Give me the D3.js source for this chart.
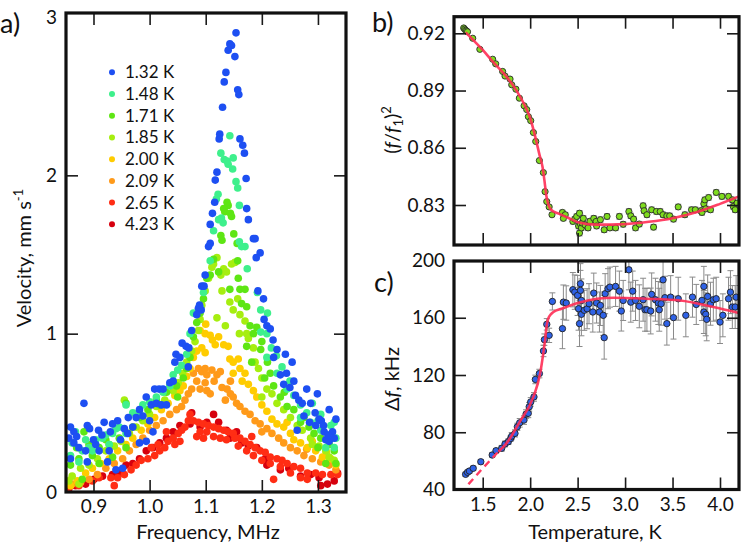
<!DOCTYPE html>
<html><head><meta charset="utf-8">
<script src="https://cdn.jsdelivr.net/npm/d3@7"></script>
<style>body{margin:0;background:#fff}svg{display:block}</style>
</head><body><svg id="c" width="747" height="545"></svg>
<script>
// ---------- DATA ----------
const seriesLabels = ["1.32 K","1.48 K","1.71 K","1.85 K","2.00 K","2.09 K","2.65 K","4.23 K"];
const seriesColors = ["#1d4ff2","#3ef08c","#5ee614","#a6ee10","#ffcc00","#ff9a1a","#ff2d14","#d6000e"];
const freqTicks = [0.9,1.0,1.1,1.2,1.3];
const velTicks = [0,1,2,3];
const tempTicks = [1.5,2.0,2.5,3.0,3.5,4.0];
const ratioTicks = [0.83,0.86,0.89,0.92];
const dfTicks = [40,80,120,160,200];

const v132 = [[1.154,2.90],[1.143,2.83],[1.146,2.82],[1.140,2.79],[1.152,2.75],[1.136,2.65],[1.133,2.59],[1.157,2.54],[1.159,2.51],[1.130,2.43],[1.125,2.26],[1.124,2.23],[1.161,2.23],[1.166,2.19],[1.169,2.14],[1.120,2.02],[1.117,1.97],[1.172,1.98],[1.116,1.83],[1.173,1.79],[1.176,1.72],[1.112,1.76],[1.108,1.69],[1.185,1.60],[1.188,1.60],[1.105,1.55],[1.108,1.57],[1.197,1.51],[1.190,1.48],[1.099,1.37],[1.093,1.30],[1.097,1.30],[1.193,1.27],[1.203,1.22],[1.089,1.18],[1.092,1.15],[1.087,1.16],[1.204,1.09],[1.209,1.05],[1.215,1.03],[1.084,1.12],[1.075,1.02],[1.220,0.96],[1.058,0.94],[1.065,0.92],[1.070,0.91],[1.227,0.90],[1.242,0.87],[1.047,0.87],[1.054,0.85],[1.069,0.79],[1.254,0.82],[1.221,0.85],[1.233,0.74],[1.244,0.75],[1.045,0.82],[1.036,0.69],[1.042,0.70],[1.009,0.65],[1.017,0.65],[1.024,0.65],[1.257,0.70],[1.239,0.68],[1.280,0.65],[1.299,0.62],[0.994,0.60],[1.003,0.55],[1.012,0.56],[1.021,0.55],[1.030,0.55],[1.260,0.61],[1.272,0.56],[1.287,0.56],[0.883,0.56],[1.295,0.50],[1.306,0.45],[1.320,0.52],[1.332,0.46],[1.326,0.38],[1.311,0.38],[1.296,0.42],[1.263,0.39],[0.982,0.52],[0.976,0.47],[0.970,0.41],[0.961,0.37],[0.943,0.45],[0.934,0.43],[0.919,0.44],[0.909,0.39],[0.889,0.42],[0.893,0.40],[0.865,0.38],[0.865,0.31],[0.874,0.28],[0.856,0.34],[0.859,0.21],[0.886,0.26],[0.904,0.30],[0.910,0.26],[0.928,0.26],[0.889,0.19],[0.925,0.19],[0.940,0.14],[0.952,0.15],[0.994,0.32],[0.982,0.31],[1.006,0.38],[1.314,0.33],[1.320,0.32],[1.329,0.34],[1.302,0.46],[0.859,0.41],[0.948,0.33],[0.955,0.40],[1.275,0.48],[1.285,0.44],[0.870,0.35],[0.900,0.33],[0.915,0.36],[0.930,0.38],[0.962,0.47],[0.988,0.48],[1.000,0.45],[1.250,0.66],[1.266,0.58],[1.310,0.42],[1.318,0.36]];
const v148 = [[1.143,2.25],[1.127,2.14],[1.133,2.10],[1.138,2.09],[1.149,2.11],[1.140,2.07],[1.148,2.04],[1.154,1.96],[1.157,1.92],[1.122,1.88],[1.119,1.85],[1.160,1.81],[1.128,1.73],[1.131,1.70],[1.170,1.55],[1.164,1.55],[1.114,1.65],[1.123,1.72],[1.108,1.46],[1.174,1.41],[1.192,1.26],[1.160,1.58],[1.096,1.26],[1.198,1.15],[1.090,1.17],[1.078,1.13],[1.210,1.13],[1.198,1.01],[1.209,1.00],[1.072,1.00],[1.066,0.87],[1.057,0.80],[1.217,0.91],[1.226,0.86],[1.236,0.79],[1.209,0.85],[1.245,0.65],[1.227,0.75],[1.042,0.74],[1.036,0.67],[1.024,0.63],[1.000,0.57],[0.988,0.55],[1.257,0.61],[1.269,0.55],[1.290,0.56],[1.305,0.49],[1.323,0.42],[1.332,0.34],[1.329,0.44],[0.970,0.50],[0.958,0.55],[0.946,0.41],[0.934,0.37],[0.916,0.34],[0.904,0.33],[0.892,0.28],[0.880,0.26],[0.862,0.31],[0.859,0.23],[0.874,0.19],[0.898,0.26],[0.928,0.30],[0.958,0.37],[1.305,0.39],[1.287,0.44],[1.314,0.28],[1.329,0.28],[1.269,0.47],[0.868,0.38],[1.012,0.60],[1.050,0.77],[1.250,0.70],[1.280,0.50],[0.886,0.33],[0.922,0.36],[0.940,0.40],[0.982,0.50],[1.300,0.45],[1.320,0.36]];
const v171 = [[1.140,1.81],[1.138,1.83],[1.132,1.79],[1.134,1.77],[1.144,1.76],[1.146,1.74],[1.127,1.62],[1.129,1.59],[1.150,1.63],[1.156,1.57],[1.157,1.46],[1.114,1.47],[1.108,1.37],[1.123,1.39],[1.143,1.28],[1.158,1.35],[1.161,1.28],[1.102,1.35],[1.164,1.19],[1.170,1.28],[1.173,1.17],[1.096,1.22],[1.090,1.13],[1.084,1.07],[1.179,1.05],[1.185,1.00],[1.191,1.04],[1.078,0.98],[1.173,0.92],[1.198,0.90],[1.182,0.82],[1.072,0.85],[1.066,0.78],[1.060,0.72],[1.210,0.82],[1.215,0.75],[1.221,0.67],[1.048,0.67],[1.030,0.63],[1.012,0.58],[0.997,0.52],[0.958,0.56],[0.982,0.47],[0.970,0.41],[1.233,0.60],[1.245,0.54],[1.257,0.52],[1.269,0.44],[1.284,0.41],[1.293,0.37],[1.305,0.34],[1.320,0.30],[1.329,0.26],[1.332,0.18],[0.946,0.34],[0.928,0.30],[0.910,0.28],[0.898,0.23],[0.883,0.38],[0.874,0.21],[0.859,0.17],[0.880,0.08],[0.910,0.18],[0.934,0.22],[1.300,0.28],[1.314,0.18],[1.200,0.95],[1.205,0.72],[1.050,0.60],[0.958,0.28],[0.870,0.28],[0.892,0.30],[0.922,0.33],[1.018,0.55],[1.240,0.63],[1.275,0.47]];
const v185 = [[1.114,1.44],[1.120,1.48],[1.111,1.42],[1.127,1.37],[1.132,1.41],[1.137,1.39],[1.146,1.44],[1.152,1.45],[1.105,1.35],[1.099,1.27],[1.129,1.27],[1.143,1.20],[1.149,1.15],[1.157,1.22],[1.161,1.12],[1.170,1.08],[1.173,1.00],[1.176,0.97],[1.093,1.18],[1.090,1.09],[1.087,1.02],[1.081,0.95],[1.075,0.89],[1.066,0.82],[1.059,0.75],[1.051,0.69],[1.185,0.91],[1.188,0.82],[1.194,0.78],[1.200,0.72],[1.209,0.65],[1.218,0.62],[1.042,0.64],[1.027,0.58],[1.012,0.54],[1.000,0.49],[1.227,0.56],[1.239,0.52],[1.251,0.47],[1.263,0.42],[1.272,0.39],[1.287,0.34],[1.302,0.29],[1.314,0.26],[1.329,0.20],[0.988,0.45],[0.976,0.41],[0.964,0.37],[0.949,0.32],[0.937,0.29],[0.922,0.26],[0.907,0.21],[0.892,0.17],[0.877,0.15],[0.862,0.10],[0.856,0.07],[0.874,0.05],[0.955,0.58],[1.120,1.10],[1.135,1.05],[1.160,1.00],[1.200,0.60],[1.290,0.30],[1.320,0.22]];
const v200 = [[1.090,1.02],[1.099,1.00],[1.108,0.99],[1.117,0.93],[1.123,0.98],[1.132,0.93],[1.140,0.92],[1.093,0.91],[1.099,0.88],[1.084,0.89],[1.078,0.85],[1.143,0.84],[1.149,0.82],[1.158,0.84],[1.161,0.78],[1.149,0.75],[1.170,0.75],[1.072,0.78],[1.066,0.73],[1.176,0.68],[1.185,0.64],[1.191,0.60],[1.200,0.55],[1.060,0.67],[1.054,0.64],[1.045,0.61],[1.033,0.56],[1.021,0.52],[1.209,0.51],[1.218,0.46],[1.227,0.43],[1.239,0.41],[1.251,0.37],[1.257,0.33],[1.269,0.31],[1.281,0.28],[1.296,0.26],[1.308,0.22],[1.323,0.21],[1.332,0.17],[1.009,0.47],[0.997,0.43],[0.985,0.39],[0.970,0.34],[0.958,0.30],[0.943,0.26],[0.928,0.21],[0.913,0.18],[0.898,0.15],[0.886,0.12],[0.871,0.07],[0.859,0.04],[1.100,1.06],[1.112,0.96],[1.165,0.70],[1.245,0.44],[1.290,0.32],[1.315,0.25]];
const v209 = [[1.078,0.75],[1.087,0.78],[1.093,0.76],[1.099,0.78],[1.102,0.74],[1.111,0.77],[1.120,0.74],[1.126,0.76],[1.084,0.70],[1.090,0.65],[1.102,0.64],[1.108,0.62],[1.129,0.66],[1.138,0.65],[1.144,0.62],[1.149,0.60],[1.075,0.65],[1.069,0.62],[1.063,0.58],[1.057,0.54],[1.048,0.52],[1.155,0.56],[1.161,0.54],[1.170,0.51],[1.179,0.49],[1.188,0.45],[1.197,0.43],[1.036,0.49],[1.024,0.45],[1.012,0.42],[1.000,0.39],[1.209,0.40],[1.218,0.37],[1.230,0.34],[1.239,0.31],[1.251,0.28],[1.263,0.26],[1.275,0.23],[1.290,0.21],[1.305,0.19],[1.320,0.17],[1.332,0.14],[0.988,0.34],[0.976,0.30],[0.964,0.26],[0.952,0.21],[0.937,0.18],[0.922,0.15],[0.907,0.11],[0.892,0.08],[0.877,0.06],[0.862,0.05],[1.144,0.70],[1.099,0.69],[1.115,0.70],[1.135,0.58],[1.200,0.38],[1.280,0.27]];
const v265 = [[1.072,0.49],[1.069,0.45],[1.078,0.45],[1.087,0.44],[1.096,0.43],[1.105,0.42],[1.114,0.41],[1.123,0.40],[1.132,0.39],[1.140,0.38],[1.149,0.37],[1.161,0.34],[1.090,0.38],[1.102,0.38],[1.114,0.35],[1.126,0.34],[1.137,0.33],[1.084,0.35],[1.096,0.34],[1.063,0.41],[1.057,0.39],[1.051,0.37],[1.042,0.34],[1.033,0.32],[1.054,0.32],[1.045,0.30],[1.027,0.28],[1.018,0.26],[1.009,0.23],[0.997,0.21],[0.985,0.20],[0.976,0.17],[0.967,0.14],[0.955,0.11],[0.943,0.09],[0.931,0.09],[0.910,0.09],[0.898,0.07],[0.874,0.04],[0.856,0.03],[1.170,0.32],[1.179,0.30],[1.188,0.28],[1.197,0.26],[1.206,0.25],[1.215,0.22],[1.227,0.21],[1.236,0.20],[1.245,0.18],[1.257,0.16],[1.269,0.15],[1.281,0.12],[1.296,0.12],[1.308,0.11],[1.323,0.11],[1.335,0.11],[1.158,0.29],[1.173,0.26],[1.185,0.23],[1.200,0.20],[1.215,0.18],[1.233,0.16],[1.251,0.12],[1.269,0.09],[1.281,0.08],[1.221,0.08],[0.937,0.04],[1.003,0.28],[1.015,0.30],[1.030,0.38],[1.152,0.34],[1.182,0.35]];
const v423 = [[1.075,0.50],[1.072,0.43],[1.090,0.41],[1.114,0.49],[1.123,0.44],[1.137,0.39],[1.155,0.38],[1.164,0.31],[1.176,0.29],[1.191,0.28],[1.206,0.21],[1.209,0.17],[1.233,0.14],[1.248,0.15],[1.269,0.10],[1.287,0.11],[1.302,0.09],[1.305,0.04],[1.317,0.05],[1.329,0.07],[1.335,0.12],[1.054,0.42],[1.042,0.38],[1.030,0.34],[1.018,0.31],[1.006,0.28],[0.994,0.26],[0.982,0.21],[0.970,0.18],[0.958,0.17],[0.946,0.12],[0.934,0.11],[0.916,0.10],[0.901,0.08],[0.886,0.05],[0.868,0.04],[0.856,0.02],[1.102,0.44],[1.143,0.34]];
const velocitySeries = [v132,v148,v171,v185,v200,v209,v265,v423];

// panel b: [T (K), (f/f1)^2, error]
const ratioData = [[1.30,0.9228,0.0004],[1.31,0.9222,0.0004],[1.32,0.9216,0.0004],[1.33,0.9212,0.0004],[1.34,0.9208,0.0004],[1.395,0.9174,0.0005],[1.47,0.9116,0.0005],[1.605,0.9064,0.0005],[1.637,0.9040,0.0005],[1.71,0.9000,0.0005],[1.735,0.8976,0.0005],[1.788,0.8960,0.0005],[1.806,0.8930,0.0005],[1.85,0.8907,0.0005],[1.886,0.8860,0.0005],[1.936,0.8820,0.0005],[1.964,0.8800,0.0005],[1.981,0.8763,0.0005],[2.006,0.8742,0.0005],[2.034,0.8680,0.0005],[2.059,0.8633,0.0005],[2.097,0.8533,0.0006],[2.139,0.8470,0.0006],[2.157,0.8370,0.0006],[2.175,0.8318,0.0006],[2.20,0.8290,0.0008],[2.23,0.8249,0.0010],[2.34,0.8261,0.0012],[2.37,0.8249,0.0012],[2.35,0.8230,0.0012],[2.45,0.8214,0.0013],[2.47,0.8226,0.0013],[2.49,0.8240,0.0013],[2.51,0.8190,0.0014],[2.52,0.8257,0.0014],[2.53,0.8200,0.0014],[2.52,0.8153,0.0015],[2.54,0.8180,0.0014],[2.55,0.8205,0.0014],[2.56,0.8230,0.0014],[2.58,0.8195,0.0014],[2.61,0.8180,0.0014],[2.63,0.8215,0.0014],[2.67,0.8230,0.0014],[2.695,0.8214,0.0014],[2.70,0.8190,0.0014],[2.74,0.8223,0.0014],[2.78,0.8170,0.0014],[2.81,0.8240,0.0014],[2.84,0.8180,0.0014],[2.90,0.8180,0.0014],[2.94,0.8240,0.0014],[2.98,0.8199,0.0014],[3.04,0.8266,0.0014],[3.06,0.8243,0.0014],[3.09,0.8226,0.0014],[3.11,0.8180,0.0014],[3.15,0.8200,0.0014],[3.19,0.8296,0.0014],[3.20,0.8270,0.0014],[3.23,0.8249,0.0014],[3.28,0.8275,0.0014],[3.30,0.8184,0.0014],[3.33,0.8266,0.0014],[3.37,0.8266,0.0014],[3.40,0.8249,0.0014],[3.44,0.8243,0.0014],[3.47,0.8243,0.0014],[3.51,0.8226,0.0014],[3.56,0.8290,0.0014],[3.63,0.8249,0.0014],[3.70,0.8275,0.0014],[3.74,0.8275,0.0014],[3.80,0.8270,0.0014],[3.81,0.8261,0.0014],[3.83,0.8306,0.0014],[3.84,0.8327,0.0014],[3.85,0.8280,0.0014],[3.88,0.8339,0.0014],[3.90,0.8275,0.0014],[3.96,0.8366,0.0014],[4.02,0.8345,0.0014],[4.09,0.8345,0.0014],[4.13,0.8327,0.0014],[4.14,0.8292,0.0014],[4.16,0.8275,0.0014],[4.18,0.8310,0.0014]];
const ratioFit = [[1.32,0.9205],[1.4,0.9165],[1.5,0.9113],[1.6,0.9055],[1.75,0.8973],[1.85,0.8905],[1.95,0.8815],[2.0,0.8756],[2.05,0.8665],[2.1,0.856],[2.13,0.850],[2.15,0.843],[2.17,0.835],[2.19,0.8305],[2.22,0.8275],[2.3,0.8255],[2.4,0.8233],[2.5,0.821],[2.7,0.8197],[3.0,0.820],[3.25,0.8212],[3.5,0.8231],[3.75,0.8262],[4.0,0.8306],[4.2,0.8345]];

// panel c: [T (K), Δf (kHz), error]
const dfData = [[1.32,50.6,1.5],[1.34,52.0,1.5],[1.36,52.9,1.5],[1.40,54.8,1.5],[1.48,59.4,1.5],[1.60,64.1,1.5],[1.64,67.1,1.5],[1.70,68.8,2],[1.735,71.8,2],[1.77,73.4,2],[1.795,75.7,2],[1.806,77.3,2.5],[1.84,79.2,2.5],[1.865,83.8,2.5],[1.89,86.6,3],[1.935,88.5,3],[1.957,92.7,3],[1.98,93.2,3],[1.99,97.8,3],[2.006,101.2,3],[2.04,104.7,3],[2.055,116.9,3],[2.097,121.0,3],[2.14,136.8,4],[2.15,144.7,4],[2.175,155.4,4],[2.20,147.7,5],[2.234,171.4,6],[2.34,152.4,14],[2.35,170.9,12],[2.38,170.3,12],[2.45,179.6,12],[2.47,177.9,12],[2.50,175.6,14],[2.51,166.3,15],[2.52,155.9,16],[2.53,183.8,14],[2.53,179.1,14],[2.54,172.1,15],[2.54,162.4,15],[2.57,165.2,14],[2.60,166.3,14],[2.62,169.8,14],[2.67,177.2,14],[2.66,164.0,14],[2.70,170.3,14],[2.74,168.6,14],[2.73,164.0,14],[2.77,161.7,14],[2.78,146.1,15],[2.79,176.8,14],[2.82,180.3,14],[2.84,181.4,14],[2.90,181.9,14],[2.94,178.6,14],[2.96,164.7,14],[2.98,172.1,14],[3.04,193.5,14],[3.06,170.9,14],[3.08,178.6,14],[3.11,172.1,14],[3.15,168.0,15],[3.19,172.6,15],[3.21,165.6,15],[3.23,165.6,15],[3.27,164.7,16],[3.28,176.3,15],[3.32,172.6,15],[3.35,170.3,15],[3.36,165.6,15],[3.38,169.8,15],[3.40,186.5,14],[3.42,174.0,15],[3.44,155.9,15],[3.48,174.4,15],[3.51,160.1,15],[3.56,173.3,15],[3.64,161.7,15],[3.71,174.4,14],[3.75,169.3,14],[3.81,172.1,14],[3.83,181.9,14],[3.83,164.0,15],[3.85,162.4,15],[3.86,158.9,15],[3.87,174.9,15],[3.90,169.8,15],[3.93,172.6,15],[3.96,173.3,15],[4.00,157.0,15],[4.03,161.7,15],[4.09,173.3,15],[4.11,177.9,15],[4.13,167.5,15],[4.16,167.5,15],[4.17,174.4,15]];
const dfFitSolid = [[1.665,66.4],[1.75,72.2],[1.89,87.3],[2.034,104.7],[2.105,121],[2.14,136],[2.16,146],[2.175,155],[2.19,159.4],[2.22,162.5],[2.245,164],[2.33,166.3],[2.53,170.9],[2.88,174],[3.23,173.3],[3.58,172.1],[3.93,167.5],[4.2,163.3]];
const dfFitDashed = [[1.35,43.7],[1.5,54.8],[1.665,66.4]];

// ---------- DRAWING ----------
const FONT = "Lato, 'Open Sans', sans-serif";
const svg = d3.select("#c").style("font-family", FONT);

function styleAxis(sel, fs) {
  sel.select(".domain").remove();
  sel.attr("font-family", FONT).attr("font-size", fs);
  sel.selectAll(".tick line").attr("stroke", "#1a1a1a").attr("stroke-width", 1.6);
  sel.selectAll(".tick text").attr("fill", "#111");
}
function panelAxes(x, y, box, xt, yt, xLabels, xFmt, yFmt, yNoLine) {
  const [L, R, T, B] = box;
  const g = svg.append("g");
  g.append("g").attr("transform", `translate(0,${B})`)
    .call(d3.axisBottom(x).tickValues(xt).tickSize(-12).tickPadding(8).tickFormat(xLabels ? xFmt : ""))
    .call(s => styleAxis(s, 19));
  g.append("g").attr("transform", `translate(0,${T})`)
    .call(d3.axisTop(x).tickValues(xt).tickSize(-12).tickFormat(""))
    .call(s => styleAxis(s, 19));
  const la = g.append("g").attr("transform", `translate(${L},0)`)
    .call(d3.axisLeft(y).tickValues(yt).tickSize(-12).tickPadding(9).tickFormat(yFmt))
    .call(s => styleAxis(s, 19));
  const ra = g.append("g").attr("transform", `translate(${R},0)`)
    .call(d3.axisRight(y).tickValues(yt).tickSize(-12).tickFormat(""))
    .call(s => styleAxis(s, 19));
  [la, ra].forEach(a => a.selectAll(".tick").filter(d => yNoLine.includes(d)).select("line").remove());
  g.append("rect").attr("x", L).attr("y", T).attr("width", R - L).attr("height", B - T)
    .attr("fill", "none").attr("stroke", "#111").attr("stroke-width", 3.2);
}
function clip(id, box) {
  const [L, R, T, B] = box;
  svg.append("clipPath").attr("id", id).append("rect")
    .attr("x", L).attr("y", T).attr("width", R - L).attr("height", B - T);
}

// ---- Panel a ----
const boxA = [66, 346, 13, 492];
const xA = d3.scaleLinear().domain([0.851, 1.35]).range([66, 346]);
const yA = d3.scaleLinear().domain([0, 3]).range([492, 17]);
clip("ca", boxA);
const gA = svg.append("g").attr("clip-path", "url(#ca)");
for (let i = velocitySeries.length - 1; i >= 0; i--) {
  gA.append("g").selectAll("circle").data(velocitySeries[i]).join("circle")
    .attr("cx", d => xA(d[0])).attr("cy", d => yA(d[1])).attr("r", 3.8)
    .attr("fill", seriesColors[i]);
}
panelAxes(xA, yA, boxA, freqTicks, velTicks, true, d3.format(".1f"), d3.format("d"), [0, 3]);

// legend
const leg = svg.append("g");
seriesLabels.forEach((lab, i) => {
  const yy = 72.3 + i * 21.72;
  leg.append("circle").attr("cx", 112).attr("cy", yy).attr("r", 3).attr("fill", seriesColors[i]);
  leg.append("text").attr("x", 125).attr("y", yy + 6).attr("font-size", 17).attr("fill", "#111").text(lab);
});

// ---- Panel b ----
const boxB = [454, 739, 16.7, 245];
const xT = d3.scaleLinear().domain([1.5, 4.0]).range([482.7, 720]);
const yB = d3.scaleLinear().domain([0.83, 0.92]).range([205, 33.3]);
clip("cb", boxB);
const gB = svg.append("g").attr("clip-path", "url(#cb)");
const ebB = gB.append("g").attr("stroke", "#8a8a8a").attr("stroke-width", 1);
ratioData.forEach(d => {
  const x = xT(d[0]), y1 = yB(d[1] - d[2]), y2 = yB(d[1] + d[2]);
  ebB.append("line").attr("x1", x).attr("x2", x).attr("y1", y1).attr("y2", y2);
  ebB.append("line").attr("x1", x - 3).attr("x2", x + 3).attr("y1", y1).attr("y2", y1);
  ebB.append("line").attr("x1", x - 3).attr("x2", x + 3).attr("y1", y2).attr("y2", y2);
});
gB.append("g").selectAll("circle").data(ratioData).join("circle")
  .attr("cx", d => xT(d[0])).attr("cy", d => yB(d[1])).attr("r", 3.1)
  .attr("fill", "#7edc1e").attr("stroke", "#2a2a2a").attr("stroke-width", 0.9);
gB.append("path").datum(ratioFit)
  .attr("d", d3.line().x(d => xT(d[0])).y(d => yB(d[1])).curve(d3.curveMonotoneX))
  .attr("fill", "none").attr("stroke", "#ff2d55").attr("stroke-width", 2.6).attr("stroke-opacity", 0.9);
panelAxes(xT, yB, boxB, tempTicks, ratioTicks, false, null, d3.format(".2f"), []);

// ---- Panel c ----
const boxC = [454, 739, 261, 489.5];
const yC = d3.scaleLinear().domain([40, 200]).range([489.5, 260.5]);
clip("cc", boxC);
const gC = svg.append("g").attr("clip-path", "url(#cc)");
const ebC = gC.append("g").attr("stroke", "#8a8a8a").attr("stroke-width", 1);
dfData.forEach(d => {
  const x = xT(d[0]), y1 = yC(d[1] - d[2]), y2 = yC(d[1] + d[2]);
  ebC.append("line").attr("x1", x).attr("x2", x).attr("y1", y1).attr("y2", y2);
  ebC.append("line").attr("x1", x - 3).attr("x2", x + 3).attr("y1", y1).attr("y2", y1);
  ebC.append("line").attr("x1", x - 3).attr("x2", x + 3).attr("y1", y2).attr("y2", y2);
});
gC.append("g").selectAll("circle").data(dfData).join("circle")
  .attr("cx", d => xT(d[0])).attr("cy", d => yC(d[1])).attr("r", 3.2)
  .attr("fill", "#2f62e6").attr("stroke", "#222").attr("stroke-width", 0.9);
const lineC = d3.line().x(d => xT(d[0])).y(d => yC(d[1])).curve(d3.curveMonotoneX);
gC.append("path").datum(dfFitSolid).attr("d", lineC)
  .attr("fill", "none").attr("stroke", "#ff2d55").attr("stroke-width", 2.6).attr("stroke-opacity", 0.9);
gC.append("path").datum(dfFitDashed).attr("d", lineC)
  .attr("fill", "none").attr("stroke", "#ff3b62").attr("stroke-width", 2.4).attr("stroke-dasharray", "7,5");
panelAxes(xT, yC, boxC, tempTicks, dfTicks, true, d3.format(".1f"), d3.format("d"), [40, 200]);

// ---- labels ----
function txt(x, y, s, fs, anchor) {
  return svg.append("text").attr("x", x).attr("y", y).attr("font-size", fs)
    .attr("text-anchor", anchor || "start").attr("fill", "#111").text(s);
}
txt(0, 33, "a)", 27);
txt(372, 32, "b)", 27);
txt(374, 292, "c)", 27);
txt(208, 539, "Frequency, MHz", 20, "middle");
txt(595, 539, "Temperature, K", 20, "middle");

const ya = svg.append("text").attr("transform", "translate(31,258) rotate(-90)")
  .attr("text-anchor", "middle").attr("font-size", 20).attr("fill", "#111");
ya.append("tspan").text("Velocity, mm s");
ya.append("tspan").attr("font-size", 13).attr("dy", -8).text("-1");

const yb = svg.append("text").attr("transform", "translate(399,130) rotate(-90)")
  .attr("text-anchor", "middle").attr("font-size", 20).attr("fill", "#111");
yb.append("tspan").text("(");
yb.append("tspan").attr("font-style", "italic").text("f");
yb.append("tspan").text("/");
yb.append("tspan").attr("font-style", "italic").text("f");
yb.append("tspan").attr("font-size", 13).attr("dy", 4).text("1");
yb.append("tspan").attr("dy", -4).text(")");
yb.append("tspan").attr("font-size", 13).attr("dy", -8).text("2");

const yc = svg.append("text").attr("transform", "translate(399,379) rotate(-90)")
  .attr("text-anchor", "middle").attr("font-size", 20).attr("fill", "#111");
yc.append("tspan").text("Δ");
yc.append("tspan").attr("font-style", "italic").text("f");
yc.append("tspan").text(", kHz");
</script></body></html>
